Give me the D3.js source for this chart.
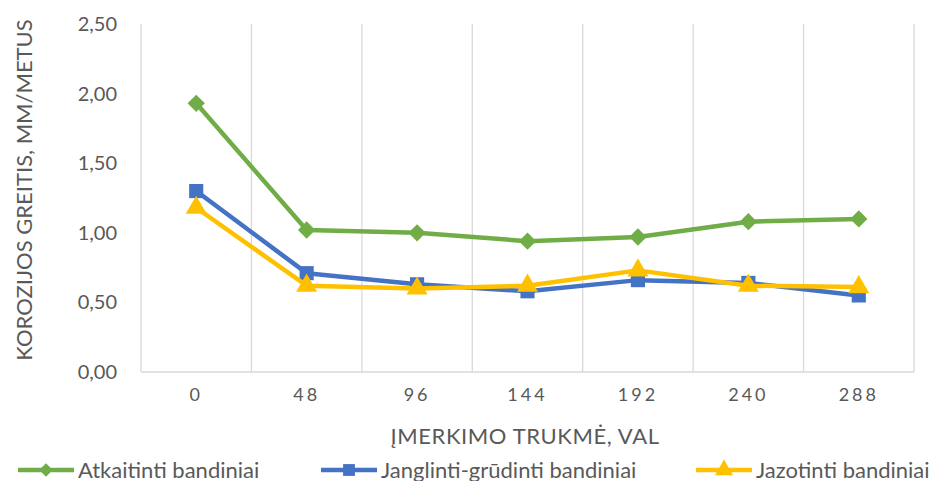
<!DOCTYPE html>
<html>
<head>
<meta charset="utf-8">
<script src="https://cdn.jsdelivr.net/npm/d3@7"></script>
<style>
  html, body { margin: 0; padding: 0; background: #fff; }
  svg { display: block; font-family: Lato, "Open Sans", sans-serif; }
</style>
</head>
<body>
<svg id="chart" width="932" height="481"></svg>
<script>
// Immersion duration (hours)
const categories = ["0", "48", "96", "144", "192", "240", "288"];
// Corrosion rate, mm/year
const atkaitinti = [1.93, 1.02, 1.00, 0.94, 0.97, 1.08, 1.10];
const janglinti  = [1.30, 0.71, 0.63, 0.58, 0.66, 0.64, 0.55];
const jazotinti  = [1.18, 0.62, 0.60, 0.62, 0.73, 0.62, 0.61];
const yTicks = [0, 0.5, 1.0, 1.5, 2.0, 2.5];

const seriesNames = ["Atkaitinti bandiniai", "Janglinti-grūdinti bandiniai", "Jazotinti bandiniai"];
const seriesColors = ["#70ad47", "#4472c4", "#ffc000"];
// diamond = square turned by 45°
const seriesMarkers = [d3.symbolSquare, d3.symbolSquare, d3.symbolTriangle];
const markerRotate = [45, 0, 0];
const markerSize = [150, 200, 190];
const legendMarkerSize = [90, 140, 140];
const seriesValues = [atkaitinti, janglinti, jazotinti];

const svg = d3.select("#chart");
const plotLeft = 141, plotRight = 914, plotTop = 24, plotBottom = 372;
const textColor = "#595959";

const x = d3.scaleBand().domain(categories).range([plotLeft, plotRight]);
const y = d3.scaleLinear().domain([0, 2.5]).range([plotBottom, plotTop]);

// vertical gridlines at category boundaries
const bounds = categories.map(c => x(c)).concat([plotRight]);
svg.append("g").selectAll("line").data(bounds).join("line")
  .attr("x1", d => d).attr("x2", d => d)
  .attr("y1", plotTop).attr("y2", plotBottom)
  .attr("stroke", "#d9d9d9").attr("stroke-width", 1.3);

// bottom axis line
svg.append("line")
  .attr("x1", plotLeft).attr("x2", plotRight).attr("y1", plotBottom).attr("y2", plotBottom)
  .attr("stroke", "#d9d9d9").attr("stroke-width", 1.3);

// y tick labels
const fmt = v => d3.format(".2f")(v).replace(".", ",");
const yAxis = d3.axisLeft(y).tickValues(yTicks).tickFormat(fmt).tickSize(0).tickPadding(0);
const yg = svg.append("g").attr("transform", `translate(${plotLeft - 24},0)`).call(yAxis);
yg.select(".domain").remove();
yg.selectAll("text").attr("fill", textColor).style("font-size", "20px")
  .style("font-family", "Lato, sans-serif");

// x tick labels
const xAxis = d3.axisBottom(x).tickSize(0).tickPadding(0);
const xg = svg.append("g").attr("transform", `translate(0,${plotBottom + 16})`).call(xAxis);
xg.select(".domain").remove();
xg.selectAll("text").attr("fill", textColor).style("font-size", "18px")
  .style("letter-spacing", "3px").style("font-family", "Lato, sans-serif");

// axis titles
svg.append("text")
  .attr("x", 525).attr("y", 444)
  .attr("text-anchor", "middle").attr("fill", textColor)
  .style("font-size", "22px").style("letter-spacing", "0.6px")
  .text("ĮMERKIMO TRUKMĖ, VAL");

svg.append("text")
  .attr("transform", `translate(32,190) rotate(-90)`)
  .attr("text-anchor", "middle").attr("fill", textColor)
  .style("font-size", "22px")
  .text("KOROZIJOS GREITIS, MM/METUS");

// series
const cx = c => x(c) + x.bandwidth() / 2;
const line = d3.line().x((d, i) => cx(categories[i])).y(d => y(d));

seriesValues.forEach((vals, s) => {
  const g = svg.append("g");
  g.append("path").datum(vals)
    .attr("d", line).attr("fill", "none")
    .attr("stroke", seriesColors[s]).attr("stroke-width", 4.5)
    .attr("stroke-linejoin", "round");
  g.selectAll("path.m").data(vals).join("path")
    .attr("class", "m")
    .attr("d", d3.symbol(seriesMarkers[s], markerSize[s]))
    .attr("transform", (d, i) => `translate(${cx(categories[i])},${y(d)}) rotate(${markerRotate[s]})`)
    .attr("fill", seriesColors[s]);
});

// legend
const legendX = [18, 321, 696];
const legendY = 470;
seriesNames.forEach((name, s) => {
  const g = svg.append("g").attr("transform", `translate(${legendX[s]},${legendY})`);
  g.append("line").attr("x1", 0).attr("x2", 56).attr("y1", 0).attr("y2", 0)
    .attr("stroke", seriesColors[s]).attr("stroke-width", 4.5);
  g.append("path").attr("d", d3.symbol(seriesMarkers[s], legendMarkerSize[s]))
    .attr("transform", `translate(28,0) rotate(${markerRotate[s]})`).attr("fill", seriesColors[s]);
  g.append("text").attr("x", 60).attr("y", 7.5)
    .attr("fill", textColor).style("font-size", "22px")
    .text(name);
});
</script>
</body>
</html>
